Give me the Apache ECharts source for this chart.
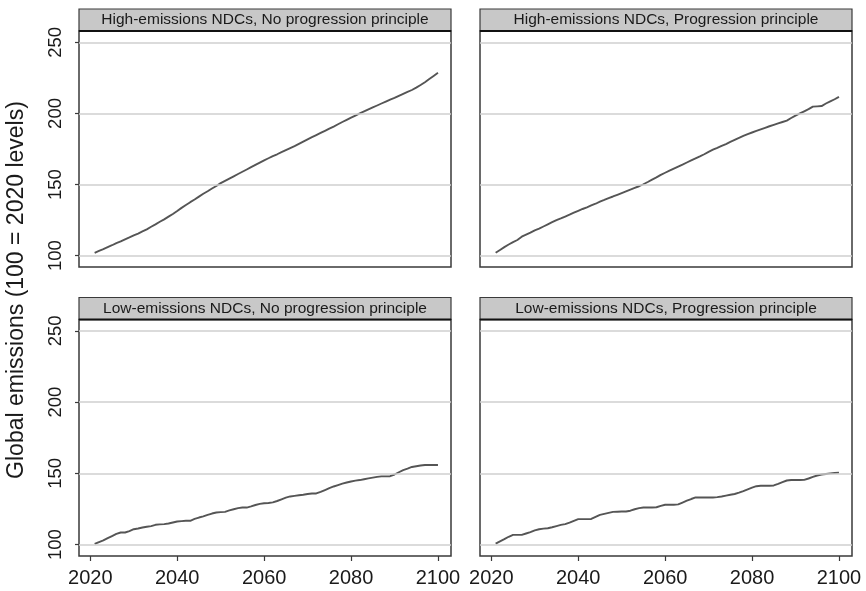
<!DOCTYPE html>
<html>
<head>
<meta charset="utf-8">
<script src="https://cdn.jsdelivr.net/npm/echarts@6/dist/echarts.min.js"></script>
<style>html,body{margin:0;padding:0;background:#fff;}#c{width:866px;height:591px;}</style>
</head>
<body>
<div id="c"></div>
<script>
const years = [];
for (let y = 2021; y <= 2100; y++) years.push(y);

const panelTitles = [
  'High-emissions NDCs, No progression principle',
  'High-emissions NDCs, Progression principle',
  'Low-emissions NDCs, No progression principle',
  'Low-emissions NDCs, Progression principle'
];
const yTicks = [100, 150, 200, 250];
const xTicks = [2020, 2040, 2060, 2080, 2100];
const yTitle = 'Global emissions (100 = 2020 levels)';

const highNoProg = [
102.0,103.3,104.6,106.0,107.3,108.8,110.0,111.5,112.8,114.2,
115.5,117.0,118.5,120.3,122.0,123.8,125.5,127.4,129.3,131.4,
133.6,135.6,137.6,139.5,141.5,143.5,145.3,147.2,149.0,151.0,
152.6,154.2,155.8,157.4,159.0,160.6,162.2,163.8,165.4,167.0,
168.5,170.0,171.3,172.8,174.2,175.6,177.0,178.6,180.2,181.8,
183.3,184.8,186.3,187.8,189.3,190.8,192.4,194.0,195.5,197.0,
198.5,200.0,201.4,202.8,204.2,205.6,207.0,208.4,209.8,211.0,
212.4,213.8,215.2,216.5,218.2,220.0,222.0,224.2,226.4,228.6];

const highProg = [
102.0,104.0,106.0,107.8,109.5,111.0,113.3,114.8,116.2,117.8,
119.0,120.5,122.0,123.5,125.0,126.2,127.5,128.8,130.2,131.5,
132.8,134.0,135.3,136.5,138.0,139.2,140.5,141.6,142.8,144.0,
145.2,146.4,147.6,148.8,150.2,151.8,153.5,155.0,156.8,158.3,
159.8,161.2,162.6,164.0,165.5,167.0,168.4,169.8,171.3,173.0,
174.5,175.8,177.2,178.5,180.0,181.4,182.8,184.2,185.5,186.6,
187.7,188.8,189.9,191.0,192.0,193.0,194.0,195.0,196.8,198.5,
200.0,201.5,203.0,204.8,205.0,205.2,207.0,208.5,210.0,211.7];

const lowNoProg = [
100.5,101.8,103.0,104.5,106.0,107.5,108.5,108.5,109.5,110.8,
111.3,112.0,112.5,113.0,113.9,114.2,114.4,114.8,115.5,116.2,
116.5,116.7,116.7,118.0,119.0,119.8,120.8,121.8,122.5,122.8,
123.0,124.0,124.8,125.6,126.0,126.0,126.8,127.8,128.6,129.0,
129.2,129.6,130.6,131.8,133.0,133.8,134.2,134.6,135.0,135.5,
135.9,135.9,137.0,138.3,139.6,140.8,141.8,142.8,143.6,144.3,
144.9,145.3,145.9,146.5,147.0,147.5,147.9,147.9,148.0,149.2,
150.8,152.3,153.3,154.5,155.0,155.5,155.9,155.9,155.9,155.9];

const lowProg = [
100.7,102.3,103.8,105.5,106.8,106.8,106.8,107.8,108.8,110.0,
110.8,111.2,111.5,112.2,113.0,113.8,114.4,115.5,116.7,117.9,
117.9,117.9,118.0,119.5,120.9,121.6,122.3,123.0,123.1,123.2,
123.2,123.8,124.8,125.6,126.0,126.0,126.0,126.2,127.2,128.0,
128.0,128.0,128.2,129.5,130.8,132.0,133.1,133.1,133.1,133.1,
133.1,133.3,133.8,134.4,135.0,135.5,136.5,137.6,138.8,140.0,
141.0,141.3,141.3,141.3,141.5,142.6,143.8,145.0,145.3,145.3,
145.3,145.4,146.4,147.5,148.5,149.2,149.6,150.0,150.3,150.5];

const seriesData = [highNoProg, highProg, lowNoProg, lowProg];

const chart = echarts.init(document.getElementById('c'), null, {renderer: 'canvas'});

const G = [
  {left: 79, top: 31, width: 372, height: 236},
  {left: 480, top: 31, width: 372, height: 236},
  {left: 79, top: 319.5, width: 372, height: 236.5},
  {left: 480, top: 319.5, width: 372, height: 236.5}
];
const FONT = 'Liberation Sans, Arial, sans-serif';
const grids = [], xAxes = [], yAxes = [], series = [], graphics = [];

G.forEach((g, i) => {
  const isLeft = (i % 2 === 0), isBottom = (i >= 2);
  grids.push({left: g.left, top: g.top, width: g.width, height: g.height,
    show: true, borderColor: '#3a3a3a', borderWidth: 1.5, backgroundColor: '#fff', containLabel: false});
  xAxes.push({type: 'value', gridIndex: i, min: 2017.4, max: 2103,
    axisLine: {show: false},
    axisTick: {show: isBottom, length: 5, lineStyle: {color: '#3a3a3a', width: 1.2}, customValues: xTicks},
    axisLabel: {show: isBottom, customValues: xTicks, margin: 12, color: '#1a1a1a', fontSize: 20, fontFamily: FONT,
      formatter: v => String(v)},
    splitLine: {show: false}});
  yAxes.push({type: 'value', gridIndex: i, min: 92, max: 258,
    axisLine: {show: false},
    axisTick: {show: isLeft, length: 4, lineStyle: {color: '#3a3a3a', width: 1.2}, customValues: yTicks},
    axisLabel: {show: isLeft, customValues: yTicks, rotate: 90, margin: 14, color: '#1a1a1a', fontSize: 18.5, fontFamily: FONT,
      formatter: v => String(v)},
    splitLine: {show: false}});
  series.push({type: 'line', xAxisIndex: i, yAxisIndex: i, data: [], silent: true, z: 1,
    markLine: {silent: true, symbol: 'none', animation: false, label: {show: false},
      lineStyle: {color: '#cfcfcf', width: 1.6, type: 'solid'},
      data: yTicks.map(v => ({yAxis: v}))}});
  series.push({type: 'line', xAxisIndex: i, yAxisIndex: i, z: 3,
    data: years.map((y, k) => [y, seriesData[i][k]]),
    showSymbol: false, symbol: 'none', animation: false,
    lineStyle: {color: '#555555', width: 1.9}});
  graphics.push({type: 'rect', shape: {x: g.left, y: g.top - 22, width: g.width, height: 22},
    style: {fill: '#c8c8c8', stroke: '#3a3a3a', lineWidth: 1.2}, z: 10});
  graphics.push({type: 'line', shape: {x1: g.left, y1: g.top, x2: g.left + g.width, y2: g.top},
    style: {stroke: '#111', lineWidth: 2}, z: 11});
  graphics.push({type: 'text', x: g.left + g.width / 2, y: g.top - 11,
    style: {text: panelTitles[i], fill: '#1a1a1a', font: '15.5px ' + FONT, align: 'center', verticalAlign: 'middle'}, z: 12});
});

graphics.push({type: 'text', x: 17, y: 290, rotation: Math.PI / 2,
  style: {text: yTitle, fill: '#1a1a1a', font: '23px ' + FONT, align: 'center', verticalAlign: 'middle'}, z: 12});

chart.setOption({
  backgroundColor: '#fff',
  animation: false,
  grid: grids, xAxis: xAxes, yAxis: yAxes, series: series, graphic: graphics
});
</script>
</body>
</html>
